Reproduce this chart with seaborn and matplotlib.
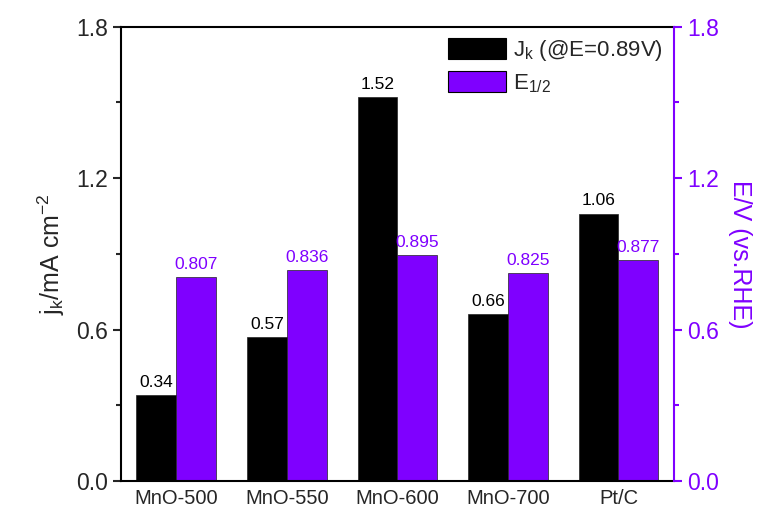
import pandas as pd
import numpy as np
import matplotlib
matplotlib.use("Agg")
import matplotlib.pyplot as plt
import seaborn as sns
from matplotlib.ticker import MultipleLocator

# data
samples = ["MnO-500", "MnO-550", "MnO-600", "MnO-700", "Pt/C"]
jk = [0.34, 0.57, 1.52, 0.66, 1.06]
e_half = [0.807, 0.836, 0.895, 0.825, 0.877]
jk_labels = ["0.34", "0.57", "1.52", "0.66", "1.06"]
e_labels = ["0.807", "0.836", "0.895", "0.825", "0.877"]

purple = "#7f00ff"

sns.set_style("ticks")
plt.rcParams["font.family"] = ["Liberation Sans", "DejaVu Sans"]
plt.rcParams["mathtext.fontset"] = "custom"
plt.rcParams["mathtext.rm"] = "Liberation Sans"
plt.rcParams["mathtext.it"] = "Liberation Sans"

df = pd.DataFrame({
    "sample": samples * 2,
    "value": jk + e_half,
    "series": ["jk"] * 5 + ["E"] * 5,
})

fig = plt.figure(figsize=(7.7, 5.15), dpi=100)
ax = fig.add_axes([0.157, 0.066, 0.718, 0.882])

sns.barplot(data=df, x="sample", y="value", hue="series",
            palette=["black", purple], width=0.72, dodge=True, saturation=1,
            edgecolor="#222222", linewidth=0.5, ax=ax, legend=False)

# value labels
for i in range(len(samples)):
    ax.text(i - 0.18, jk[i] + 0.02, jk_labels[i], ha="center", va="bottom",
            fontsize=12.5, color="black")
    ax.text(i + 0.18, e_half[i] + 0.02, e_labels[i], ha="center", va="bottom",
            fontsize=12.5, color=purple)

ax.set_xlim(-0.5, 4.5)
ax.set_ylim(0, 1.8)
ax.yaxis.set_major_locator(MultipleLocator(0.6))
ax.yaxis.set_minor_locator(MultipleLocator(0.3))
ax.yaxis.set_major_formatter(plt.FormatStrFormatter("%.1f"))
ax.set_xlabel("")
ax.set_ylabel("j$_\\mathregular{k}$/mA cm$^{-2}$", fontsize=18, labelpad=6)
ax.tick_params(axis="y", which="major", labelsize=16.5, length=6, width=1.5, direction="out")
ax.tick_params(axis="y", which="minor", length=3.5, width=1.5, direction="out")
ax.tick_params(axis="x", length=0, labelsize=14.5, pad=6)
for s in ["left", "bottom", "top"]:
    ax.spines[s].set_visible(True)
    ax.spines[s].set_linewidth(1.5)
    ax.spines[s].set_color("black")
ax.spines["right"].set_visible(False)

# right axis for E1/2
ax2 = ax.twinx()
ax2.set_ylim(0, 1.8)
ax2.yaxis.set_major_locator(MultipleLocator(0.6))
ax2.yaxis.set_minor_locator(MultipleLocator(0.3))
ax2.yaxis.set_major_formatter(plt.FormatStrFormatter("%.1f"))
ax2.set_ylabel("E/V (vs.RHE)", fontsize=18, color=purple, rotation=270, labelpad=24)
ax2.tick_params(axis="y", which="major", labelsize=16.5, length=6, width=1.5,
                colors=purple, direction="out")
ax2.tick_params(axis="y", which="minor", length=3.5, width=1.5, colors=purple, direction="out")
for s in ["left", "bottom", "top"]:
    ax2.spines[s].set_visible(False)
ax2.spines["right"].set_color(purple)
ax2.spines["right"].set_linewidth(1.5)

# legend
handles = [plt.Rectangle((0, 0), 1, 1, facecolor="black", edgecolor="black", linewidth=0.8),
           plt.Rectangle((0, 0), 1, 1, facecolor=purple, edgecolor="black", linewidth=0.8)]
ax2.legend(handles, ["J$_\\mathregular{k}$ (@E=0.89V)", "E$_{\\mathregular{1/2}}$"],
           loc="upper right", frameon=False, fontsize=16, handlelength=2.6,
           handleheight=1.1, handletextpad=0.3, borderaxespad=0.1, labelspacing=0.35)

fig.savefig("out.png", dpi=100)
